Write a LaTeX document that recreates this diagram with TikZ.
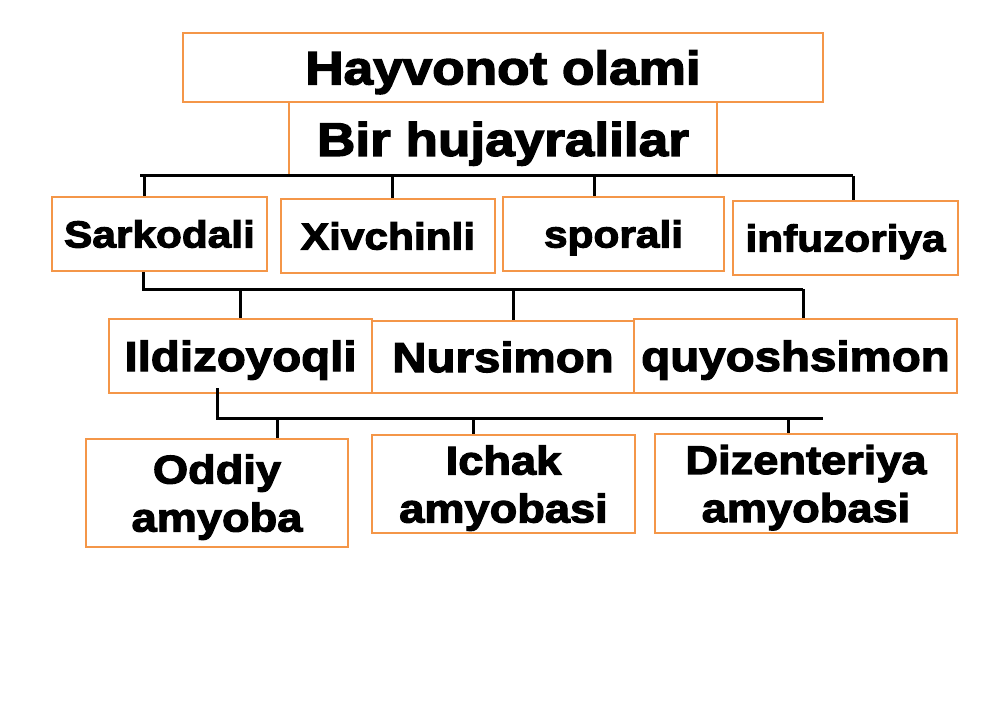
\documentclass[tikz,border=0pt]{standalone}
\usepackage{fontspec}
\newfontfamily\boxfont{Liberation Sans}[FakeStretch=1.13, FakeBold=3]
\definecolor{boxorange}{RGB}{244,150,72}

\begin{document}
\begin{tikzpicture}[x=1pt, y=-1pt,
    box/.style = {draw=boxorange, line width=2.5pt, inner sep=0pt, align=center},
    sizea/.style = {font=\boxfont\bfseries\fontsize{47}{50}\selectfont, text height=33.7pt, text depth=0pt},
    sizeb/.style = {font=\boxfont\bfseries\fontsize{37.5}{40}\selectfont, text height=26.9pt, text depth=0pt},
    sizec/.style = {font=\boxfont\bfseries\fontsize{42}{45}\selectfont, text height=30.1pt, text depth=0pt},
    sized/.style = {font=\boxfont\bfseries\fontsize{40}{48}\selectfont, text depth=0pt},
    bar/.style = {draw=black, line width=3pt}]
    \useasboundingbox (0,0) rectangle (1000,703);

    % Top
    \node[box, sizea, minimum width=640pt, minimum height=69pt] (olam) at (503, 67.5) {Hayvonot olami};
    \node[box, sizea, minimum width=428pt, minimum height=74pt] (birhuj) at (503, 139) {Bir hujayralilar};

    % First row
    \node[box, sizeb, minimum width=215pt, minimum height=74pt] (sark) at (159.5, 234) {Sarkodali};
    \node[box, sizeb, minimum width=214pt, minimum height=74pt] (xivch) at (388, 236) {Xivchinli};
    \node[box, sizeb, minimum width=221pt, minimum height=74pt] (spor) at (613.5, 234) {sporali};
    \node[box, sizeb, minimum width=225pt, minimum height=74pt] (infuz) at (845.5, 238) {infuzoriya};

    % Second row
    \node[box, sizec, minimum width=263pt, minimum height=74pt] (ildiz) at (240.5, 356) {Ildizoyoqli};
    \node[box, sizec, minimum width=262pt, minimum height=72pt] (nurs) at (503, 357) {Nursimon};
    \node[box, sizec, minimum width=323pt, minimum height=74pt] (quyosh) at (795.5, 356) {quyoshsimon};

    % Third row
    \node[box, sized, minimum width=262pt, minimum height=108pt] (oddiy) at (217, 493) {Oddiy\\amyoba};
    \node[box, sized, minimum width=263pt, minimum height=98pt] (ichak) at (503.5, 484) {Ichak\\amyobasi};
    \node[box, sized, minimum width=302pt, minimum height=99pt] (dizen) at (806, 483.5) {Dizenteriya\\amyobasi};

    % Bar under Bir hujayralilar
    \coordinate (bara) at (140, 176);
    \coordinate (barb) at (853, 176);
    \draw[bar] (bara) -- (barb);
    \foreach \x/\n in {144/sark, 392/xivch, 594/spor, 853/infuz}
        \draw[bar] (\x,176) -- (\x,176 |- \n.north);

    % Bar under Sarkodali
    \coordinate (barc) at (143, 289);
    \coordinate (bard) at (803, 289);
    \draw[bar] (143,176 |- sark.south) -- (barc) -- (bard);
    \foreach \x/\n in {240/ildiz, 513/nurs, 803/quyosh}
        \draw[bar] (\x,289) -- (\x,289 |- \n.north);

    % Bar under Ildizoyoqli
    \coordinate (bare) at (217, 418);
    \coordinate (barf) at (823, 418);
    \draw[bar] (217,388) -- (bare) -- (barf);
    \foreach \x/\n in {277/oddiy, 473/ichak, 788/dizen}
        \draw[bar] (\x,418) -- (\x,418 |- \n.north);

\end{tikzpicture}
\end{document}
